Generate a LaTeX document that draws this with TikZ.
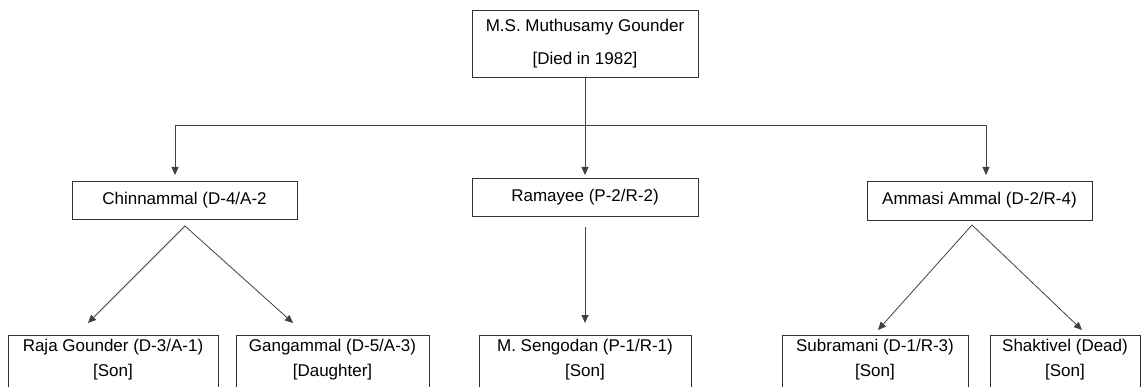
\documentclass[tikz,border=0pt]{standalone}
\usepackage{fontspec}
\setmainfont{Liberation Sans}
\usetikzlibrary{arrows.meta}
\begin{document}
\begin{tikzpicture}[x=1pt,y=-1pt,
  box/.style={draw=black!80, line width=0.9pt, rectangle, inner sep=0pt, fill=none},
  txt/.style={inner sep=0pt, align=center, font=\fontsize{17}{25}\selectfont},
  conn/.style={draw=black!75, line width=0.8pt},
  arr/.style={conn, -{Triangle[length=8pt,width=7pt]}}]
\useasboundingbox (0,0) rectangle (1142,387);
\clip (0,0) rectangle (1142,387);
% top
\node[box, minimum width=226pt, minimum height=67pt, txt, font=\fontsize{17}{33}\selectfont] (top) at (585,43.5) {M.S. Muthusamy Gounder\\{[Died in 1982]}};
% middle
\node[box, txt, minimum width=225pt, minimum height=38pt] (chin) at (184.5,200) {Chinnammal (D-4/A-2};
\node[box, txt, minimum width=226pt, minimum height=38pt] (rama) at (585,197) {Ramayee (P-2/R-2)};
\node[box, txt, minimum width=225pt, minimum height=39pt] (amma) at (979.5,200.5) {Ammasi Ammal (D-2/R-4)};
% bottom boxes
\node[box, minimum width=210pt, minimum height=80pt, anchor=north] (raja) at (113,335) {};
\node[box, minimum width=193pt, minimum height=80pt, anchor=north] (ganga) at (332.5,335) {};
\node[box, minimum width=212pt, minimum height=80pt, anchor=north] (seng) at (585,335) {};
\node[box, minimum width=186pt, minimum height=80pt, anchor=north] (subr) at (875,335) {};
\node[box, minimum width=150pt, minimum height=80pt, anchor=north] (shak) at (1065,335) {};
\node[txt] (rajat) at (113,359.5) {Raja Gounder (D-3/A-1)\\{[Son]}};
\node[txt] (gangat) at (332.5,359.5) {Gangammal (D-5/A-3)\\{[Daughter]}};
\node[txt] (sengt) at (585,359.5) {M. Sengodan (P-1/R-1)\\{[Son]}};
\node[txt] (subrt) at (875,359.5) {Subramani (D-1/R-3)\\{[Son]}};
\node[txt] (shakt) at (1065,359.5) {Shaktivel (Dead)\\{[Son]}};
% junction coordinates
\coordinate (jL) at (175,125);
\coordinate (jM) at (585,125);
\coordinate (jR) at (986,125);
\coordinate (tL) at (175,175);
\coordinate (tM) at (585,175);
\coordinate (tR) at (986,175);
\draw[conn] (top.south) -- (jM);
\draw[conn] (jL) -- (jR);
\draw[arr] (jL) -- (tL);
\draw[arr] (jM) -- (tM);
\draw[arr] (jR) -- (tR);
% Chinnammal children
\coordinate (cs) at (185,226);
\coordinate (rajaTip) at (88,323);
\coordinate (gangaTip) at (293,323);
\draw[arr] (cs) -- (rajaTip);
\draw[arr] (cs) -- (gangaTip);
% Ramayee child
\coordinate (rs) at (585,227);
\coordinate (sengTip) at (585,323);
\draw[arr] (rs) -- (sengTip);
% Ammasi children
\coordinate (as) at (972,225);
\coordinate (subrTip) at (878,330);
\coordinate (shakTip) at (1082,330);
\draw[arr] (as) -- (subrTip);
\draw[arr] (as) -- (shakTip);
\end{tikzpicture}
\end{document}
